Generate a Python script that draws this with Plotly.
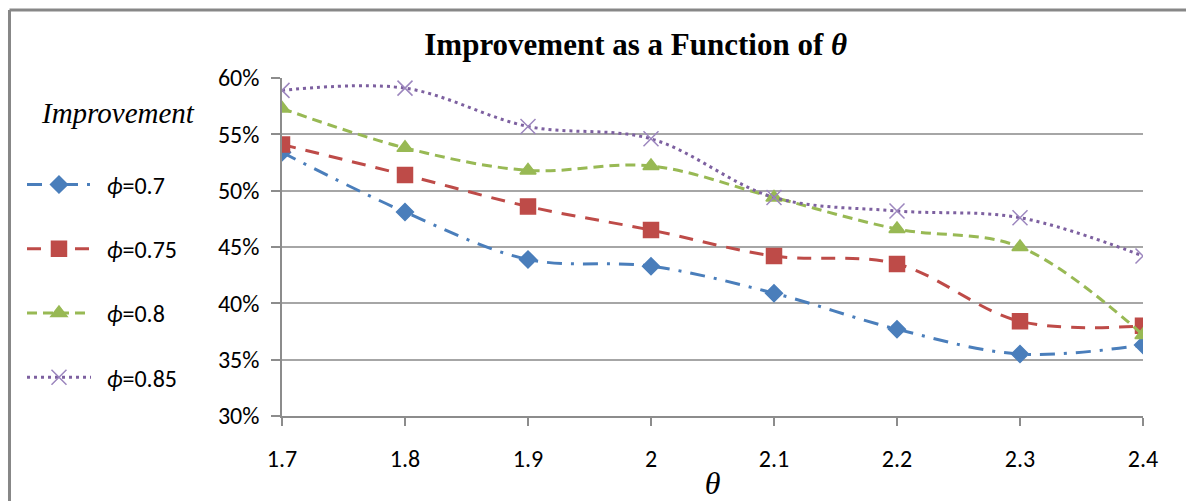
import plotly.graph_objects as go

theta = [1.7, 1.8, 1.9, 2.0, 2.1, 2.2, 2.3, 2.4]
phi_07 = [0.534, 0.481, 0.439, 0.433, 0.409, 0.377, 0.355, 0.363]
phi_075 = [0.541, 0.514, 0.486, 0.465, 0.442, 0.435, 0.384, 0.380]
phi_08 = [0.573, 0.538, 0.518, 0.522, 0.494, 0.466, 0.450, 0.372]
phi_085 = [0.589, 0.591, 0.557, 0.546, 0.494, 0.482, 0.476, 0.442]

series_names = ["<i>ϕ</i>=0.7", "<i>ϕ</i>=0.75", "<i>ϕ</i>=0.8", "<i>ϕ</i>=0.85"]
series_vals = [phi_07, phi_075, phi_08, phi_085]
colors = ["#4A7EBB", "#BE4B48", "#98B954", "#7D60A0"]
marker_colors = ["#4A7EBB", "#BE4B48", "#98B954", "#9C86BE"]
symbols = ["diamond", "square", "triangle-up", "x-thin-open"]
msizes = [13, 15, 14, 15]
dashes = ["15px,9px,3px,9px", "14px,10px", "10px,6px", "3px,4px"]

SERIF = "Liberation Serif, Times New Roman, serif"
SANS = "Carlito, Lato, sans-serif"

fig = go.Figure()
for i, (nm, vals) in enumerate(zip(series_names, series_vals)):
    fig.add_trace(go.Scatter(
        x=theta, y=vals, name="&nbsp;&nbsp;" + nm, mode="lines+markers",
        legendgroup=f"g{i}",
        line=dict(color=colors[i], width=3, dash=dashes[i], shape="spline", smoothing=1.0),
        marker=dict(symbol=symbols[i], size=msizes[i], color=marker_colors[i],
                    line=dict(color=marker_colors[i], width=1.5)),
    ))

fig.update_layout(
    width=1186, height=501,
    margin=dict(l=282, r=43, t=78, b=85, autoexpand=False),
    paper_bgcolor="white", plot_bgcolor="white",
    title=dict(text="<b>Improvement as a Function of <i>θ</i></b>",
               x=0.536, xref="container", y=0.912, yref="container",
               xanchor="center", yanchor="middle",
               font=dict(family=SERIF, size=31, color="black")),
    legend=dict(
        x=-0.302, xanchor="left", y=0.75, yanchor="top",
        font=dict(family=SANS, size=24, color="black"),
        itemwidth=64, tracegroupgap=30, traceorder="grouped",
        bgcolor="rgba(0,0,0,0)",
    ),
    annotations=[
        dict(text="<i>Improvement</i>", xref="paper", yref="paper",
             x=(118 - 282) / 861, y=(416 - 113) / 338.5, xanchor="center", yanchor="middle",
             showarrow=False, font=dict(family=SERIF, size=29, color="black")),
    ],
    xaxis=dict(
        range=[1.7, 2.4], tickmode="array", tickvals=theta,
        ticktext=["1.7", "1.8", "1.9", "2", "2.1", "2.2", "2.3", "2.4"],
        showgrid=False, zeroline=False, automargin=False,
        showline=True, linecolor="#8C8C8C", linewidth=1.5,
        ticks="outside", ticklen=8, tickcolor="#8C8C8C", tickwidth=1.5,
        ticklabelstandoff=12,
        tickfont=dict(family=SANS, size=24, color="black"),
        title=dict(text="<i>θ</i>", standoff=0,
                   font=dict(family=SERIF, size=32, color="black")),
    ),
    yaxis=dict(
        range=[0.30, 0.60], tickmode="array",
        tickvals=[0.30, 0.35, 0.40, 0.45, 0.50, 0.55, 0.60],
        tickformat=".0%", automargin=False,
        showgrid=True, gridcolor="#A6A6A6", gridwidth=1.5,
        zeroline=False,
        showline=True, linecolor="#8C8C8C", linewidth=1.5,
        ticks="outside", ticklen=9, tickcolor="#8C8C8C", tickwidth=1.5,
        ticklabelstandoff=7,
        tickfont=dict(family=SANS, size=24, color="black"),
    ),
    shapes=[
        dict(type="line", xref="paper", yref="paper", x0=-0.3165, x1=1.1, y0=1.2009, y1=1.2009,
             line=dict(color="#878787", width=3)),
        dict(type="line", xref="paper", yref="paper", x0=-0.3165, x1=-0.3165, y0=1.2009, y1=-0.4,
             line=dict(color="#878787", width=3)),
    ],
)

fig.write_html("out.html")
